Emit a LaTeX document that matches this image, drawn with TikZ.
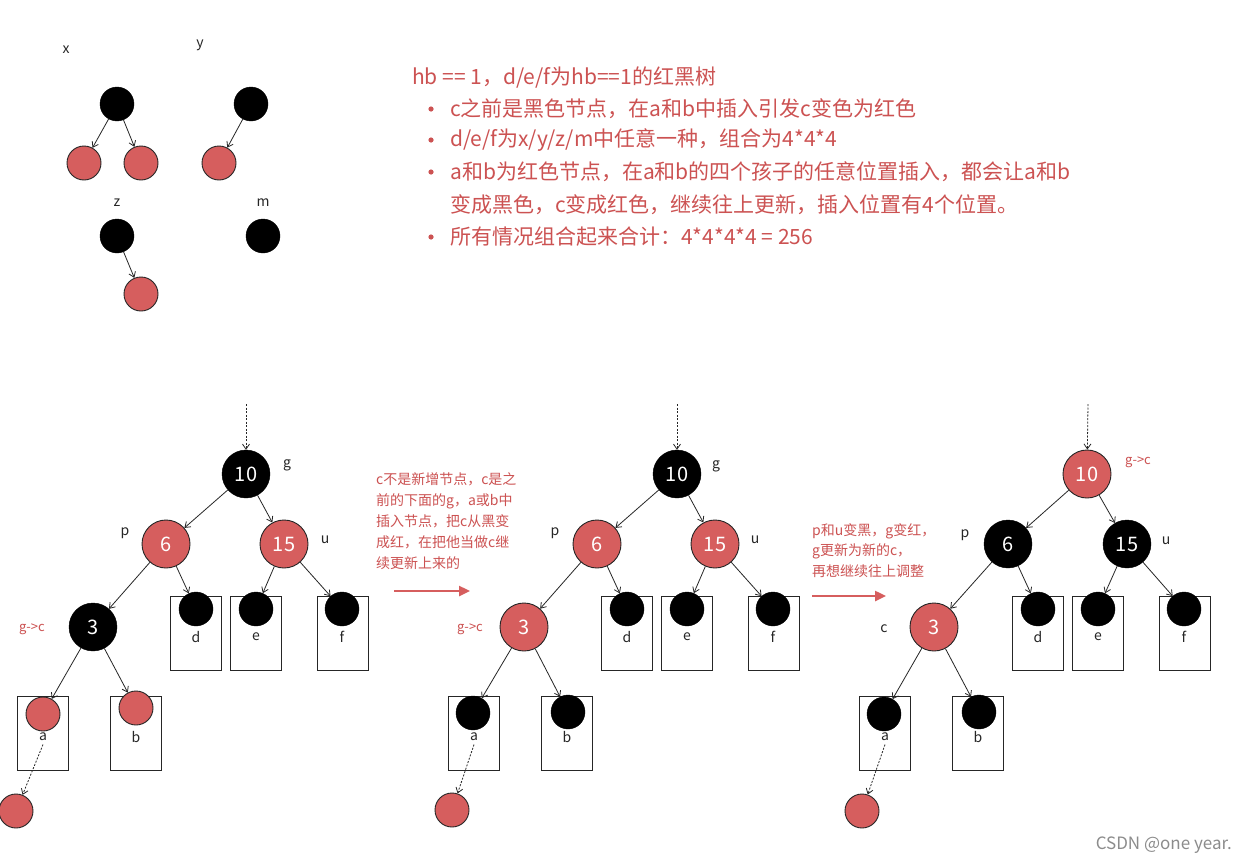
\documentclass[tikz,border=0pt]{standalone}
\usepackage{fontspec}
\setmainfont{Noto Sans CJK SC}
\usetikzlibrary{arrows.meta}
\definecolor{nred}{RGB}{214,94,94}
\definecolor{tred}{RGB}{204,82,82}
\begin{document}
\begin{tikzpicture}[x=1pt,y=-1pt,
  bn/.style={circle, fill=black, draw=black, minimum size=48pt, inner sep=0pt, text=white, font=\fontsize{20}{20}\selectfont},
  rn/.style={bn, fill=nred, draw=black!85, line width=0.9pt},
  sbn/.style={circle, fill=black, draw=black, minimum size=34pt, inner sep=0pt},
  srn/.style={circle, fill=nred, draw=black!85, line width=0.9pt, minimum size=34pt, inner sep=0pt},
  leafbox/.style={draw=black!85, line width=0.9pt, minimum width=51pt, minimum height=74pt, inner sep=0pt},
  edge/.style={-{Straight Barb[length=5pt,width=7pt]}, line width=0.8pt, draw=black!85},
  dotedge/.style={edge, dash pattern=on 2pt off 1.5pt},
  lbl/.style={font=\fontsize{14}{14}\selectfont, text=black!85},
  rlbl/.style={font=\fontsize{13}{13}\selectfont, text=tred},
  maintext/.style={anchor=west, font=\fontsize{21}{21}\selectfont, text=tred, inner sep=0pt},
  note/.style={anchor=north west, align=left, inner sep=0pt, text=tred, font=\fontsize{14}{21}\selectfont},
  bigarrow/.style={-{Triangle[length=11pt,width=10pt]}, line width=2.4pt, draw=nred}
]
\useasboundingbox (0,0) rectangle (1236,862);
\fill[white] (0,0) rectangle (1236,862);

% ---------- small trees ----------
\node[lbl] (lx) at (66,50) {x};
\node[lbl] (ly) at (200,45) {y};
\node[lbl] (lz) at (117,203) {z};
\node[lbl] (lm) at (263,203) {m};
\node[sbn] (xr) at (117,104) {};
\node[srn] (xl) at (84,163) {};
\node[srn] (xrr) at (141,163) {};
\node[sbn] (yr) at (251,104) {};
\node[srn] (yl) at (219,163) {};
\node[sbn] (zr) at (117,236) {};
\node[srn] (zc) at (141,294) {};
\node[sbn] (mr) at (263,236) {};
\draw[edge] (xr) -- (xl);
\draw[edge] (xr) -- (xrr);
\draw[edge] (yr) -- (yl);
\draw[edge] (zr) -- (zc);

% ---------- text block ----------
\node[maintext] (t0) at (412,78) {hb == 1，d/e/f为hb==1的红黑树};
\node[maintext] (t1) at (450,109) {c之前是黑色节点，在a和b中插入引发c变色为红色};
\node[maintext] (t2) at (450,140) {d/e/f为x/y/z/m中任意一种，组合为4*4*4};
\node[maintext] (t3) at (450,172) {a和b为红色节点，在a和b的四个孩子的任意位置插入，都会让a和b};
\node[maintext] (t4) at (450,205) {变成黑色，c变成红色，继续往上更新，插入位置有4个位置。};
\node[maintext] (t5) at (450,237) {所有情况组合起来合计：4*4*4*4 = 256};
\foreach \yy in {109,140,172,237} \fill[tred] (431,\yy) circle (2.6);

% ---------- tree 1 ----------
\begin{scope}
\node[leafbox] (ad) at (195.5,633) {};
\node[leafbox] (ae) at (255.5,633) {};
\node[leafbox] (af) at (342.5,633) {};
\node[leafbox] (aa) at (42.5,733) {};
\node[leafbox] (ab) at (135.5,733) {};
\node[lbl] (adl) at (196,637) {d};
\node[lbl] (ael) at (256,637) {e};
\node[lbl] (afl) at (342,637) {f};
\node[lbl] (aal) at (43,737) {a};
\node[lbl] (abl) at (136,737) {b};
\node[sbn] (acd) at (196,609) {};
\node[sbn] (ace) at (256,609) {};
\node[sbn] (acf) at (342,609) {};
\node[srn] (aca) at (43,714) {};
\node[srn] (acb) at (136,708) {};
\node[srn] (acz) at (16,811) {};
\coordinate (atop) at (246,404);
\node[bn] (ar) at (246,474) {10};
\node[rn] (ap) at (166,544) {6};
\node[rn] (au) at (284,544) {15};
\node[bn] (ac) at (93,627) {3};
\node[lbl] (agl) at (287,465) {g};
\node[lbl] (apl) at (125,533) {p};
\node[lbl] (aul) at (325,540) {u};
\node[rlbl] (acl) at (32,629) {g->c};
\draw[dotedge] (atop) -- (ar);
\draw[edge] (ar) -- (ap);
\draw[edge] (ar) -- (au);
\draw[edge] (ap) -- (ac);
\draw[edge] (ap) -- (acd);
\draw[edge] (au) -- (ace);
\draw[edge] (au) -- (acf);
\draw[edge] (ac) -- (aca);
\draw[edge] (ac) -- (acb);
\draw[dotedge] (aal.south) -- (acz);
\end{scope}

% ---------- note 1 ----------
\node[note] (n1) at (376,472) {c不是新增节点，c是之\\前的下面的g，a或b中\\插入节点，把c从黑变\\成红，在把他当做c继\\续更新上来的};
\coordinate (n1a) at (394,591);
\coordinate (n1b) at (470,591);
\draw[bigarrow] (n1a) -- (n1b);

% ---------- tree 2 ----------
\begin{scope}[xshift=431pt]
\node[leafbox] (bd) at (195.5,633) {};
\node[leafbox] (be) at (255.5,633) {};
\node[leafbox] (bf) at (342.5,633) {};
\node[leafbox] (ba) at (42.5,733) {};
\node[leafbox] (bb) at (135.5,733) {};
\node[lbl] (bdl) at (196,637) {d};
\node[lbl] (bel) at (256,637) {e};
\node[lbl] (bfl) at (342,637) {f};
\node[lbl] (bal) at (43,737) {a};
\node[lbl] (bbl) at (136,737) {b};
\node[sbn] (bcd) at (196,609) {};
\node[sbn] (bce) at (256,609) {};
\node[sbn] (bcf) at (342,609) {};
\node[sbn] (bca) at (42,713) {};
\node[sbn] (bcb) at (137,712) {};
\node[srn] (bcz) at (21,810) {};
\coordinate (btop) at (246,404);
\node[bn] (br) at (246,474) {10};
\node[rn] (bp) at (166,544) {6};
\node[rn] (bu) at (284,544) {15};
\node[rn] (bc) at (93,627) {3};
\node[lbl] (bgl) at (285,466) {g};
\node[lbl] (bpl) at (124,533) {p};
\node[lbl] (bul) at (324,540) {u};
\node[rlbl] (bcl) at (39,629) {g->c};
\draw[dotedge] (btop) -- (br);
\draw[edge] (br) -- (bp);
\draw[edge] (br) -- (bu);
\draw[edge] (bp) -- (bc);
\draw[edge] (bp) -- (bcd);
\draw[edge] (bu) -- (bce);
\draw[edge] (bu) -- (bcf);
\draw[edge] (bc) -- (bca);
\draw[edge] (bc) -- (bcb);
\draw[dotedge] (bal.south) -- (bcz);
\end{scope}

% ---------- note 2 ----------
\node[note, font=\fontsize{14}{20.5}\selectfont] (n2) at (812,523) {p和u变黑，g变红，\\g更新为新的c，\\再想继续往上调整};
\coordinate (n2a) at (812,596);
\coordinate (n2b) at (886,596);
\draw[bigarrow] (n2a) -- (n2b);

% ---------- tree 3 ----------
\begin{scope}[xshift=842pt]
\node[leafbox] (cd) at (195.5,633) {};
\node[leafbox] (ce) at (255.5,633) {};
\node[leafbox] (cf) at (342.5,633) {};
\node[leafbox] (ca) at (42.5,733) {};
\node[leafbox] (cb) at (135.5,733) {};
\node[lbl] (cdl) at (196,637) {d};
\node[lbl] (cel) at (256,637) {e};
\node[lbl] (cfl) at (342,637) {f};
\node[lbl] (cal) at (43,737) {a};
\node[lbl] (cbl) at (136,737) {b};
\node[sbn] (ccd) at (196,609) {};
\node[sbn] (cce) at (256,609) {};
\node[sbn] (ccf) at (342,609) {};
\node[sbn] (cca) at (42,714) {};
\node[sbn] (ccb) at (137,712) {};
\node[srn] (ccz) at (20,811) {};
\coordinate (ctop) at (246,404);
\node[rn] (cr) at (245,474) {10};
\node[bn] (cp) at (166,544) {6};
\node[bn] (cu) at (285,544) {15};
\node[rn] (cc) at (92,627) {3};
\node[rlbl] (cgl) at (296,462) {g->c};
\node[lbl] (cpl) at (123,535) {p};
\node[lbl] (cul) at (324,541) {u};
\node[lbl] (ccl) at (42,629) {c};
\draw[dotedge] (ctop) -- (cr);
\draw[edge] (cr) -- (cp);
\draw[edge] (cr) -- (cu);
\draw[edge] (cp) -- (cc);
\draw[edge] (cp) -- (ccd);
\draw[edge] (cu) -- (cce);
\draw[edge] (cu) -- (ccf);
\draw[edge] (cc) -- (cca);
\draw[edge] (cc) -- (ccb);
\draw[dotedge] (cal.south) -- (ccz);
\end{scope}

% ---------- watermark ----------
\node[anchor=east, inner sep=0pt, text=black!45, font=\fontsize{17}{17}\selectfont] (wm) at (1232,845) {CSDN @one year.};
\end{tikzpicture}
\end{document}
